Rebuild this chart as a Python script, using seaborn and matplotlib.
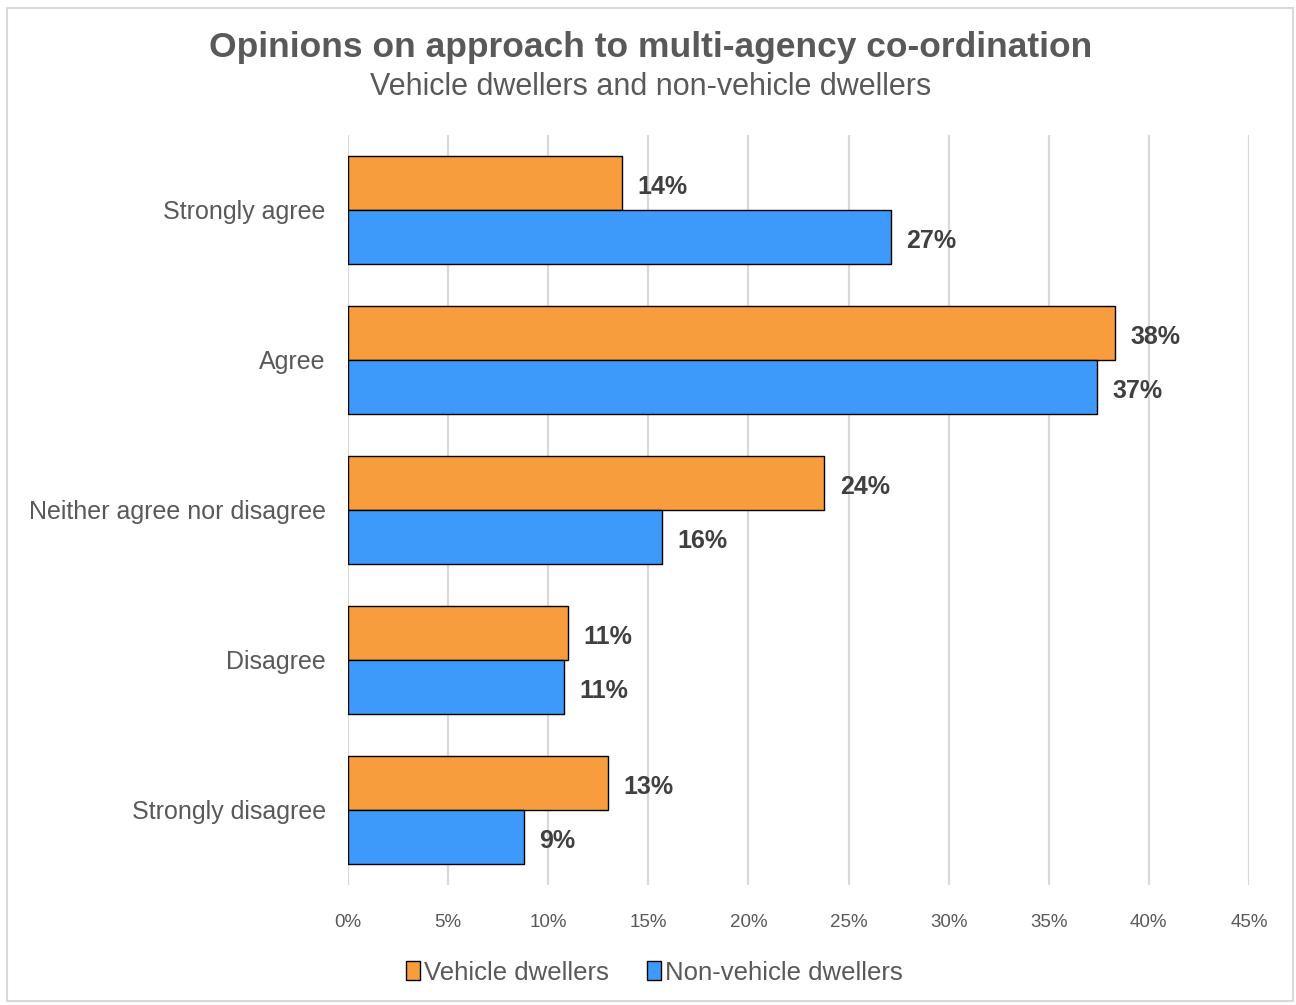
import matplotlib
matplotlib.use("Agg")
import matplotlib.pyplot as plt
from matplotlib.patches import Rectangle, Patch
import seaborn as sns
import pandas as pd

categories = ["Strongly agree", "Agree", "Neither agree nor disagree", "Disagree", "Strongly disagree"]
series_names = ["Vehicle dwellers", "Non-vehicle dwellers"]
vehicle = [13.7, 38.3, 23.8, 11.0, 13.0]
non_vehicle = [27.1, 37.4, 15.7, 10.8, 8.8]
x_ticks = [0, 5, 10, 15, 20, 25, 30, 35, 40, 45]
colors = ["#F89D3E", "#3D9AFA"]

df = pd.DataFrame({
    "category": categories * 2,
    "group": [series_names[0]] * len(categories) + [series_names[1]] * len(categories),
    "value": vehicle + non_vehicle,
})

sns.set_theme(style="white")
plt.rcParams["font.family"] = ["Liberation Sans", "DejaVu Sans"]

fig = plt.figure(figsize=(12.96, 10.05), dpi=100)
ax = fig.add_axes([0.2685, 0.1194, 0.6952, 0.7463])

sns.barplot(data=df, y="category", x="value", hue="group", order=categories,
            hue_order=series_names, palette=colors, orient="h", width=0.715,
            edgecolor="black", linewidth=1.0, saturation=1, legend=False, ax=ax)

ax.set_xlim(0, 45)
ax.set_ylim(len(categories) - 0.5, -0.5)
ax.set_xticks(x_ticks)
ax.set_xticklabels([f"{t}%" for t in x_ticks], color="#595959", fontsize=13.5)
ax.tick_params(axis="x", pad=21, length=0)
ax.tick_params(axis="y", length=0, pad=16)
for lbl in ax.get_yticklabels():
    lbl.set_color("#595959")
    lbl.set_fontsize(18)
ax.set_xlabel("")
ax.set_ylabel("")
ax.grid(axis="x", color="#D9D9D9", linewidth=1.6)
ax.set_axisbelow(True)
for s in ax.spines.values():
    s.set_visible(False)

# value labels at the end of each bar
for container in ax.containers:
    anns = ax.bar_label(container, labels=[f"{v:.0f}%" for v in container.datavalues],
                        padding=11, fontsize=18, fontweight="bold", color="#404040")
    for a in anns:
        a.xyann = (11, -3)

fig.text(0.502, 0.953, "Opinions on approach to multi-agency co-ordination",
         ha="center", va="center", fontsize=25.5, fontweight="bold", color="#595959")
fig.text(0.502, 0.913, "Vehicle dwellers and non-vehicle dwellers",
         ha="center", va="center", fontsize=22, color="#595959")

handles = [Patch(facecolor=c, edgecolor="black", linewidth=1.0) for c in colors]
leg = fig.legend(handles, series_names, loc="center", bbox_to_anchor=(0.505, 0.032),
                 ncol=2, frameon=False, fontsize=18.5, handlelength=0.55, handleheight=0.75,
                 handletextpad=0.15, columnspacing=1.5)
for t in leg.get_texts():
    t.set_color("#595959")

fig.patches.append(Rectangle((0.0055, 0.004), 0.992, 0.988, transform=fig.transFigure,
                             fill=False, edgecolor="#D9D9D9", linewidth=1.5))

fig.savefig("out.png", dpi=100, facecolor="white")
